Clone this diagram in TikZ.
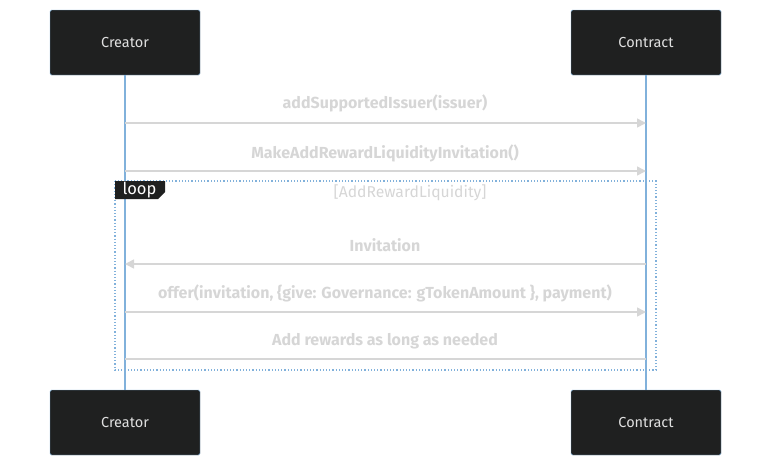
\documentclass[tikz,border=0pt]{standalone}
\usepackage{fontspec}
\setmainfont{Fira Sans}
\usetikzlibrary{positioning,arrows.meta}
\definecolor{boxfill}{HTML}{1F2020}
\definecolor{boxline}{HTML}{81B1DB}
\definecolor{msgcol}{HTML}{D6D6D6}
\tikzstyle{actor}=[draw=boxline, fill=boxfill, rounded corners=1.5pt, minimum width=150pt, minimum height=65pt, text=white!88!black, font=\fontsize{14.5}{16}\selectfont]
\tikzstyle{life}=[-, boxline, line width=1.2pt]
\tikzstyle{msg}=[msgcol, line width=1.5pt]
\tikzstyle{msglabel}=[text=msgcol, font=\fontsize{16}{18}\selectfont\bfseries]

\begin{document}
\begin{tikzpicture}[x=1pt,y=-1pt]
            \useasboundingbox (0,0) rectangle (771,466);

            \node[actor] (creatorTop) at (125,42.5) {Creator};
            \node[actor] (contractTop) at (646,42.5) {Contract};
            \node[actor] (creatorBot) at (125,422.5) {Creator};
            \node[actor] (contractBot) at (646,422.5) {Contract};

            \draw[life] (creatorTop) -- (creatorBot);
            \draw[life] (contractTop) -- (contractBot);

            % loop frame
            \draw[boxline, dotted, line width=1.2pt] (115,181) rectangle (656,370);
            \fill[boxfill] (115,181) -- (165,181) -- (165,192) -- (158,199) -- (115,199) -- cycle;
            \node[text=white, font=\fontsize{16.5}{18}\selectfont, anchor=center] (loopTag) at (139.5,190) {loop};
            \node[text=msgcol, font=\fontsize{15.7}{18}\selectfont] (loopCond) at (410,193) {[AddRewardLiquidity]};

            \coordinate (c1) at (125,123); \coordinate (k1) at (646,123);
            \coordinate (c2) at (125,171); \coordinate (k2) at (646,171);
            \coordinate (c3) at (125,264); \coordinate (k3) at (646,264);
            \coordinate (c4) at (125,312); \coordinate (k4) at (646,312);
            \coordinate (c5) at (125,359); \coordinate (k5) at (646,359);

            \node[msglabel] (m1) at (385,103) {addSupportedIssuer(issuer)};
            \node[msglabel] (m2) at (385,153) {MakeAddRewardLiquidityInvitation()};
            \node[msglabel] (m3) at (385,245) {Invitation};
            \node[msglabel] (m4) at (385,293) {offer(invitation, \{give: Governance: gTokenAmount \}, payment)};
            \node[msglabel] (m5) at (385,341) {Add rewards as long as needed};

            \draw[msg, -{Triangle[length=9pt,width=9pt]}] (c1) -- (k1);
            \draw[msg, -{Triangle[length=9pt,width=9pt]}] (c2) -- (k2);
            \draw[msg, -{Triangle[length=9pt,width=9pt]}] (k3) -- (c3);
            \draw[msg, -{Triangle[length=9pt,width=9pt]}] (c4) -- (k4);
            \draw[msg] (c5) -- (k5);
        \end{tikzpicture}
\end{document}
